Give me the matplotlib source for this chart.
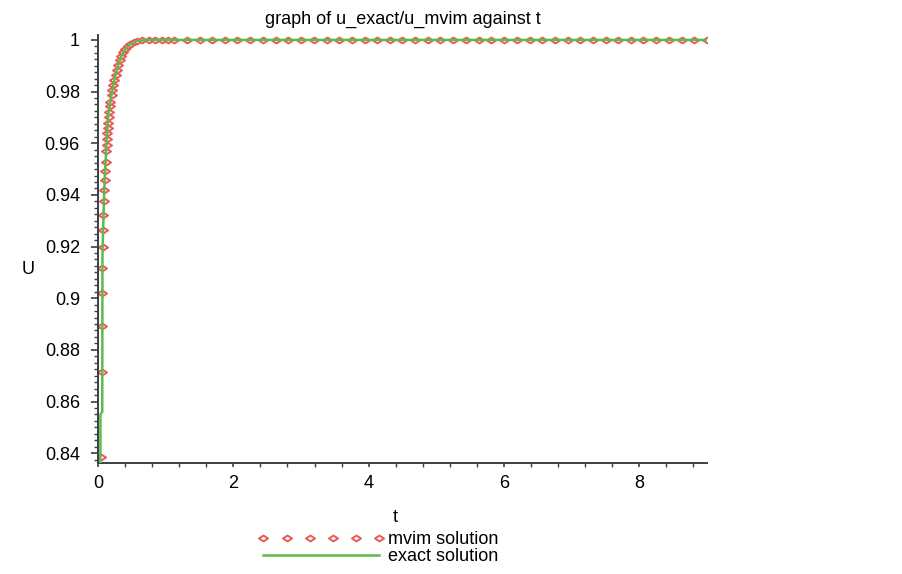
import numpy as np
import matplotlib.pyplot as plt
from matplotlib.path import Path
from matplotlib.ticker import MultipleLocator

plt.rcParams['font.family'] = ['Liberation Sans', 'DejaVu Sans']

# mvim solution points
t_mvim = [0.048, 0.055, 0.060, 0.063, 0.066, 0.070, 0.075, 0.080, 0.086, 0.092,
          0.098, 0.105, 0.112, 0.120, 0.126, 0.132, 0.138, 0.145, 0.152, 0.160,
          0.168, 0.176, 0.184, 0.200, 0.212, 0.228, 0.243, 0.260, 0.280, 0.300,
          0.322, 0.345, 0.372, 0.405, 0.440, 0.480, 0.525, 0.580, 0.650, 0.750,
          0.84, 0.94, 1.03, 1.13, 1.31, 1.50, 1.69, 1.88, 2.06, 2.25,
          2.44, 2.63, 2.81, 3.00, 3.19, 3.38, 3.56, 3.75, 3.94, 4.13,
          4.31, 4.50, 4.69, 4.88, 5.06, 5.25, 5.44, 5.63, 5.81, 6.00,
          6.19, 6.38, 6.56, 6.75, 6.94, 7.13, 7.31, 7.50, 7.69, 7.88,
          8.06, 8.25, 8.44, 8.63, 8.81, 9.00]
u_mvim = [0.8385, 0.8715, 0.8893, 0.9022, 0.9118, 0.9200, 0.9264, 0.9322, 0.9377, 0.9419,
          0.9458, 0.9494, 0.9529, 0.9568, 0.9594, 0.9616, 0.9639, 0.9658, 0.9680, 0.9703,
          0.9722, 0.9744, 0.9761, 0.9787, 0.9806, 0.9826, 0.9845, 0.9864, 0.9884, 0.9903,
          0.9923, 0.9938, 0.9954, 0.9965, 0.9977, 0.9985, 0.9992, 0.9996, 0.9999, 1.0,
          1.0, 1.0, 1.0, 1.0, 1.0, 1.0, 1.0, 1.0, 1.0, 1.0,
          1.0, 1.0, 1.0, 1.0, 1.0, 1.0, 1.0, 1.0, 1.0, 1.0,
          1.0, 1.0, 1.0, 1.0, 1.0, 1.0, 1.0, 1.0, 1.0, 1.0,
          1.0, 1.0, 1.0, 1.0, 1.0, 1.0, 1.0, 1.0, 1.0, 1.0,
          1.0, 1.0, 1.0, 1.0, 1.0, 1.0]

# exact solution
t_exact = [0.035, 0.036, 0.063, 0.066, 0.090, 0.098, 0.120, 0.150, 0.184, 0.200,
           0.228, 0.260, 0.300, 0.345, 0.405, 0.480, 0.580, 0.750, 9.0]
u_exact = [0.80, 0.855, 0.856, 0.9168, 0.940, 0.9458, 0.9568, 0.9703, 0.9761, 0.9787,
           0.9826, 0.9864, 0.9903, 0.9938, 0.9965, 0.9985, 0.9996, 1.0, 1.0]

red = '#ec5a55'
green = '#5dbb4c'
axcol = '#3a3f44'
fs = 13

# flattened diamond marker
diamond = Path([(-1, 0), (0, 0.65), (1, 0), (0, -0.65), (-1, 0)],
               [Path.MOVETO, Path.LINETO, Path.LINETO, Path.LINETO, Path.CLOSEPOLY])

fig = plt.figure(figsize=(9.02, 5.74), dpi=100)
ax = fig.add_axes([98/902, 1-463/574, 609/902, 428/574])

ax.plot(t_mvim, u_mvim, linestyle='none', marker=diamond, markersize=6.5,
        markerfacecolor='white', markeredgecolor=red, markeredgewidth=1.4,
        label='mvim solution', zorder=2)
ax.plot(t_exact, u_exact, color=green, lw=1.8, label='exact solution', zorder=3)

ax.set_xlim(0, 9)
ax.set_ylim(0.8362, 1.0019)
ax.xaxis.set_major_locator(MultipleLocator(2))
ax.xaxis.set_minor_locator(MultipleLocator(0.4))
ax.yaxis.set_major_locator(MultipleLocator(0.02))
ax.yaxis.set_minor_locator(MultipleLocator(0.0025))
ax.yaxis.set_major_formatter(plt.FuncFormatter(lambda v, p: ('%g' % round(v, 4))))

for s in ['top', 'right']:
    ax.spines[s].set_visible(False)
for s in ['left', 'bottom']:
    ax.spines[s].set_color(axcol)
    ax.spines[s].set_linewidth(1.4)
ax.tick_params(which='major', length=5, width=1.2, color=axcol, labelsize=fs, pad=8)
ax.tick_params(which='minor', length=3, width=1.0, color=axcol)
ax.tick_params(axis='x', which='both', length=3)
ax.tick_params(axis='x', which='major', pad=6)

ax.set_title('graph of u_exact/u_mvim against t', fontsize=fs, pad=8)
fig.text(22/902, 1-270/574, 'U', fontsize=fs, ha='left', va='center')
fig.text(395/902, 1-517/574, 't', fontsize=fs, ha='center', va='center')

fig.legend(loc='upper left', bbox_to_anchor=(258/902, 1-531/574), frameon=False,
           numpoints=6, handlelength=7.0, handletextpad=0.2, labelspacing=0.0,
           borderpad=0, borderaxespad=0, fontsize=fs)

fig.savefig('out.png', dpi=100)
